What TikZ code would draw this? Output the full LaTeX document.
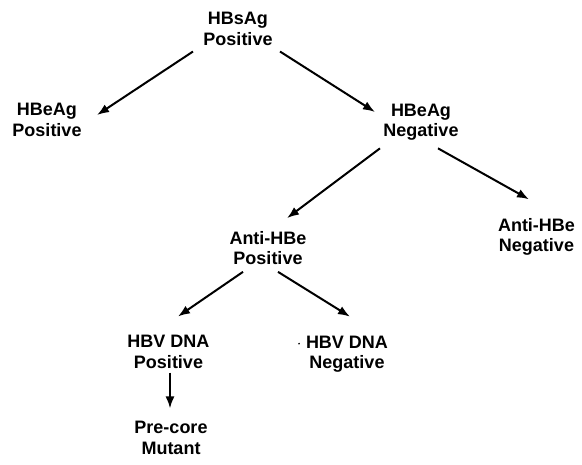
\documentclass[tikz,border=0pt]{standalone}
\usepackage{fontspec}
\setmainfont{Liberation Sans}
\usetikzlibrary{arrows.meta}

\begin{document}
\begin{tikzpicture}[x=1pt, y=-1pt,
    every node/.style={align=center, inner sep=0pt, outer sep=0pt,
        font=\fontsize{18}{20.5}\selectfont\bfseries},
    arr/.style={-{Latex[length=12pt, width=9pt]}, line width=2pt}]
                    \useasboundingbox (0,0) rectangle (582,465);
                    \node (hbsag) at (238, 29) {HBsAg\\Positive};
                    \node (hbeagpos) at (47, 120) {HBeAg\\Positive};
                    \node (hbeagneg) at (421, 122) {HBeAg\\Negative};
                    \node (antihbepos) at (268, 248) {Anti-HBe\\Positive};
                    \node (antihbeneg) at (536.5, 237) {Anti-HBe\\Negative};
                    \node (dnapos) at (168.5, 352) {HBV DNA\\Positive};
                    \node (dnaneg) at (347, 354) {HBV DNA\\Negative};
                    \node (precore) at (171, 438) {Pre-core\\Mutant};
                    \fill ([shift={(-7,8)}]dnaneg.north west) circle (0.9pt);
                    \draw[arr] ([shift={(-10.5,6)}]hbsag.south west) -- ([shift={(15.5,-5)}]hbeagpos.east);
                    \draw[arr] ([shift={(7.5,6)}]hbsag.south east) -- ([shift={(-8.5,-10)}]hbeagneg.west);
                    \draw[arr] ([shift={(-3.5,8)}]hbeagneg.south west) -- ([shift={(19,-13)}]antihbepos.north);
                    \draw[arr] ([shift={(17,8)}]hbeagneg.south) -- ([shift={(-7.5,-19)}]antihbeneg.north);
                    \draw[arr] ([shift={(-25,7)}]antihbepos.south) -- ([shift={(9.5,-19)}]dnapos.north);
                    \draw[arr] ([shift={(10,7)}]antihbepos.south) -- ([shift={(3,-19)}]dnaneg.north);
                    \draw[arr] ([shift={(1.5,4)}]dnapos.south) -- ([shift={(-1,-13)}]precore.north);
                \end{tikzpicture}
\end{document}
